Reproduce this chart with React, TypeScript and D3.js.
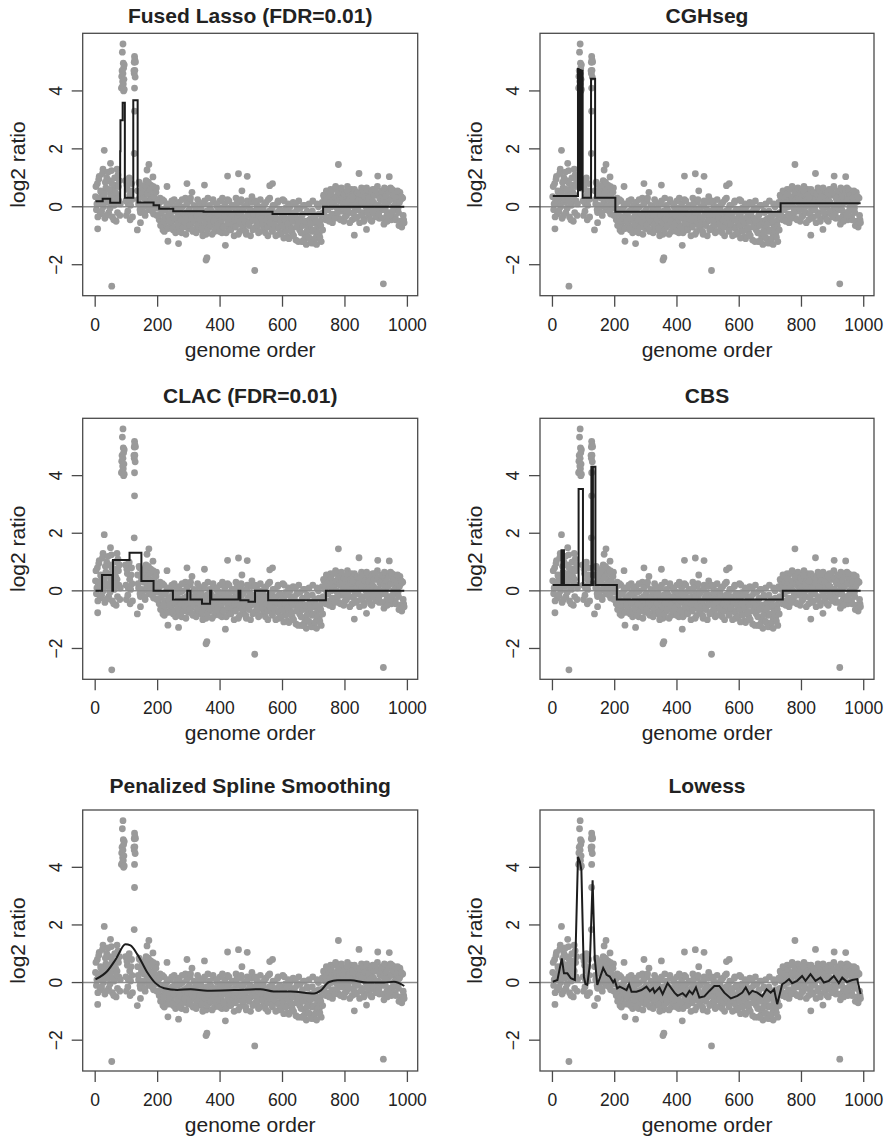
import React from "react";
import * as d3 from "d3";

const W = 888;
const H = 1139;
const FONT = "'Liberation Sans', Arial, Helvetica, sans-serif";

// log2 ratios; two interleaved sets, one value every third probe each
const BAND_STEP = 3;
const bandStarts = [1, 97, 136, 202, 238, 730];
const bandStarts2 = [2.5, 98.5, 137.5, 203.5, 239.5, 731.5];

const bandEarly = [0.35, -0.1, 0.8, 0.2, 1.05, -0.25, 0.5, 0.1, 1.3, 0.3, -0.4, 0.65, 1.0, 0.15, -0.2, 0.9, 0.45, 1.25, -0.35, 0.6, 0.05, 0.75, -0.5, 0.4, 1.1, 0.2, -0.3];
const bandMid = [0.9, -0.3, 0.6, 0.1, 1.0, -0.45, 0.55, 0.25];
const bandLate = [0.55, 0.1, 0.8, -0.2, 0.35, 0.7, 0.0, 0.45, -0.3, 0.9, 0.2, 0.6, -0.1, 0.4, 0.75, 0.05, 0.3, -0.25, 0.55, 0.15, 0.65, -0.05];
const bandDrop = [0.1, -0.45, 0.3, -0.6, -0.1, -0.8, 0.2, -0.35, -0.7, 0.0, -0.5, -0.25];
const bandLow = [
  -0.3, 0.1, -0.6, -0.15, -0.8, 0.25, -0.45, -0.05, -0.7, -0.25,
  0.15, -0.55, -0.35, -0.9, 0.0, -0.4, -0.65, 0.3, -0.2, -0.5,
  -0.75, -0.1, 0.2, -0.6, -0.3, -0.85, 0.05, -0.45, -0.15, -0.7,
  0.25, -0.35, -0.55, -0.05, -0.8, -0.25, 0.1, -0.65, -0.4, -0.95,
  -0.2, 0.3, -0.5, -0.7, -0.1, -0.35, -0.6, 0.15, -0.85, -0.3,
  -0.45, 0.0, -0.75, -0.2, 0.2, -0.55, -0.9, -0.15, -0.4, 0.1,
  -0.65, -0.3, 0.25, -0.8, -0.05, -0.5, -0.7, 0.05, -0.35, -1.0,
  -0.2, 0.3, -0.6, -0.45, -0.1, -0.85, 0.15, -0.3, -0.55, -0.75,
  0.0, -0.4, -0.95, 0.2, -0.25, -0.65, -0.1, -0.5, 0.35, -0.8,
  -0.35, -0.15, -0.7, 0.1, -0.45, -0.9, -0.2, 0.25, -0.6, -0.3,
  -0.05, -0.75, -0.4, 0.15, -0.55, -1.0, -0.25, 0.3, -0.65, -0.1,
  -0.85, -0.35, 0.05, -0.5, -0.2, -0.7, 0.2, -0.95, -0.45, -0.15,
  -0.6, 0.25, -0.3, -0.8, -0.05, -0.55, -1.05, 0.1, -0.4, -0.7,
  -0.2, -0.9, 0.15, -0.5, -0.35, -1.15, -0.1, -0.65, 0.2, -0.8,
  -0.45, -1.2, -0.25, 0.05, -0.95, -0.6, -1.3, -0.15, -0.75, 0.1,
  -1.1, -0.4, -0.85, 0.2, -1.25, -0.55, -0.3, -1.0, -0.7, 0.0,
  -0.9, -0.5, -1.2, 0.15,
];
const bandTail = [
  -0.2, 0.35, 0.05, -0.45, 0.5, -0.1, 0.25, -0.35, 0.6, 0.0,
  -0.55, 0.3, 0.15, -0.25, 0.65, -0.05, 0.4, -0.4, 0.2, 0.55,
  -0.15, 0.1, -0.5, 0.45, 0.3, -0.3, 0.7, 0.0, -0.2, 0.35,
  0.6, -0.45, 0.15, 0.5, -0.1, 0.25, -0.35, 0.4, 0.05, -0.55,
  0.3, 0.65, -0.2, 0.1, -0.4, 0.45, 0.2, -0.05, 0.55, -0.3,
  0.35, 0.0, -0.5, 0.6, 0.15, -0.25, 0.4, -0.15, 0.7, 0.05,
  -0.4, 0.25, 0.5, -0.1, 0.3, -0.6, 0.45, 0.1, -0.3, 0.6,
  0.2, -0.2, 0.65, -0.45, 0.35, 0.0, 0.55, -0.35, 0.15, 0.4,
  -0.05, -0.65, 0.5, 0.25, -0.7, 0.3, -0.45,
];

const bandEarly2 = [0.7, 0.1, -0.35, 0.95, 0.3, 0.55, -0.15, 1.15, 0.0, 0.45, 0.85, -0.3, 0.25, 1.2, 0.6, -0.05, 0.35, 0.8, 0.15, -0.45, 1.0, 0.5, 0.25, -0.2, 0.7, 0.9, 0.1];
const bandMid2 = [0.2, 0.75, -0.15, 0.95, 0.4, 0.05, 0.8, -0.35];
const bandLate2 = [0.25, 0.85, -0.1, 0.5, 0.05, 0.65, 0.3, -0.2, 0.75, 0.1, 0.45, 0.85, 0.0, 0.6, 0.25, -0.15, 0.7, 0.35, 0.1, 0.5, -0.3, 0.2];
const bandDrop2 = [-0.3, 0.15, -0.65, -0.2, 0.25, -0.5, -0.85, -0.1, -0.4, 0.1, -0.75, -0.35];
const bandLow2 = [
  -0.5, -0.2, 0.2, -0.75, -0.4, -0.1, -0.9, 0.05, -0.6, -0.3,
  -0.85, -0.05, -0.45, 0.25, -0.7, -0.25, -0.55, -0.95, 0.1, -0.35,
  -0.15, -0.65, 0.3, -0.4, -0.8, -0.2, -0.5, 0.0, -0.9, -0.3,
  -0.6, 0.15, -0.45, -0.1, -0.75, -1.0, -0.3, 0.2, -0.55, -0.15,
  -0.8, -0.4, 0.05, -0.65, -0.25, -0.95, 0.25, -0.5, -0.2, -0.7,
  0.1, -0.6, -0.3, -0.85, -0.05, -0.45, 0.3, -0.7, -0.35, -0.1,
  -0.9, -0.15, -0.55, 0.2, -0.4, -0.8, -0.25, -0.6, 0.0, -0.45,
  -0.7, 0.1, -0.35, -0.95, -0.2, -0.5, 0.25, -0.65, -0.1, -0.4,
  -0.55, -0.85, 0.05, -0.3, -0.6, -0.15, -1.0, 0.15, -0.45, -0.25,
  -0.75, 0.2, -0.5, -0.05, -0.65, -0.3, -0.85, 0.0, -0.4, -0.6,
  -0.2, 0.1, -0.9, -0.45, -0.7, 0.25, -0.15, -0.55, -0.35, -0.8,
  0.05, -0.6, -0.25, -1.0, -0.4, 0.15, -0.75, -0.1, -0.5, -0.9,
  -0.3, -0.65, 0.2, -0.45, -0.85, -0.15, -0.6, -1.1, 0.0, -0.35,
  -0.75, -0.5, -1.0, -0.2, 0.1, -0.7, -0.4, -1.2, -0.55, -0.05,
  -0.9, -0.3, -0.65, -1.15, 0.05, -0.5, -0.85, -0.2, -1.05, -0.45,
  -0.6, -1.25, -0.15, -0.8, -0.35, -1.1, -0.5, 0.1, -0.9, -0.25,
  -1.05, -0.65, -0.3, -0.8,
];
const bandTail2 = [
  0.4, -0.3, 0.2, 0.55, -0.1, 0.3, -0.5, 0.15, 0.45, -0.25,
  0.1, 0.6, -0.4, 0.35, 0.0, -0.2, 0.5, 0.25, -0.45, 0.65,
  0.3, -0.05, 0.45, -0.35, 0.15, 0.55, -0.15, 0.2, -0.55, 0.4,
  0.05, 0.35, -0.25, 0.6, -0.4, 0.1, 0.5, -0.1, 0.25, 0.45,
  -0.3, 0.15, 0.55, -0.5, 0.35, 0.0, 0.65, -0.2, 0.3, 0.1,
  -0.45, 0.5, 0.2, -0.15, 0.4, 0.6, -0.35, 0.05, 0.45, -0.25,
  0.3, 0.0, 0.55, -0.4, 0.2, 0.65, -0.1, 0.35, -0.5, 0.15,
  0.5, -0.3, 0.25, 0.6, -0.15, 0.4, 0.05, -0.45, 0.3, 0.55,
  -0.2, 0.15, -0.5, 0.35, -0.6, -0.3, -0.55,
];

const bands = [bandEarly, bandMid, bandLate, bandDrop, bandLow, bandTail];
const bands2 = [bandEarly2, bandMid2, bandLate2, bandDrop2, bandLow2, bandTail2];

// amplified probes [genome order, log2 ratio]
const spikeA = [[84, 4.1], [85, 4.5], [86, 4.7], [87, 5.34], [87, 4.15], [88, 4.33], [89, 5.62], [89, 4.6], [90, 4.96], [90, 4.24], [91, 4.79], [91, 4.0], [92, 4.4], [93, 4.9], [93, 4.05]];
const spikeB = [[124, 4.7], [125, 4.99], [125, 4.6], [125, 1.84], [126, 5.19], [126, 4.1], [126, 3.3], [127, 5.08], [127, 4.71], [128, 4.48], [129, 5.0]];
const outliers = [
  [8, -0.76], [29, 1.95], [49, 1.5], [53, -2.74], [70, 1.3], [135, -0.8], [145, -0.55], [166, 1.27], [172, 1.46],
  [185, 1.03], [230, 0.7], [233, -1.19], [267, -1.27], [294, 0.8], [310, 0.5], [350, 0.75], [355, -1.84], [358, -1.76],
  [417, -1.33], [424, 1.06], [459, 1.14], [470, 0.55], [487, 1.05], [511, -2.2], [559, 0.73], [568, 0.8], [604, -1.08],
  [666, -1.2], [709, -1.3], [770, 0.7], [779, 1.46], [830, -0.98], [845, 1.15], [869, -0.78], [905, 1.06], [923, -2.66], [942, 1.04],
];

// fitted profiles: [genome order, level]
const fusedLasso = [[1, 0.19], [24, 0.28], [48, 0.14], [80, 1.92], [81, 2.99], [88, 3.59], [95, 0.31], [122, 3.68], [136, 0.15], [187, 0.05], [205, -0.07], [250, -0.15], [347, -0.17], [568, -0.25], [730, 0.0], [990, 0.0]];
const cghseg = [[1, 0.37], [82, 4.76], [84, 0.6], [85, 4.65], [87, 0.57], [88, 4.72], [90, 0.6], [91, 4.7], [97, 0.31], [124, 4.42], [137, 0.31], [202, -0.17], [733, 0.12], [990, 0.12]];
const clac = [[1, 0.0], [22, 0.55], [55, 0.0], [57, 1.07], [110, 1.32], [148, 0.34], [187, 0.0], [249, -0.3], [295, 0.0], [305, -0.3], [342, -0.45], [368, 0.0], [372, -0.3], [459, 0.0], [465, -0.33], [491, -0.38], [512, 0.0], [554, -0.33], [739, 0.0], [990, 0.0]];
const cbs = [[1, 0.2], [29, 1.41], [31, 0.2], [33, 1.41], [37, 0.2], [84, 3.54], [98, 0.2], [125, 4.31], [128, 0.2], [130, 4.31], [138, 0.2], [207, -0.3], [740, 0.0], [990, 0.0]];
const spline = [[1, 0.11], [39, 0.4], [66, 0.81], [97, 1.33], [113, 1.29], [135, 0.98], [167, 0.35], [193, -0.02], [221, -0.2], [263, -0.26], [306, -0.23], [359, -0.28], [445, -0.26], [529, -0.23], [572, -0.31], [626, -0.31], [701, -0.38], [722, -0.28], [749, 0.02], [776, 0.08], [818, 0.08], [872, 0.0], [925, 0.0], [957, 0.03], [990, -0.12]];
const lowess = [
  [1, 0.03], [16, 0.09], [30, 0.84], [37, 0.32], [48, 0.32], [59, 0.15], [72, 0.09], [82, 4.36], [88, 4.2], [93, 3.9], [101, 0.2],
  [106, -0.05], [112, -0.08], [120, 0.61], [129, 3.55], [136, 0.84], [144, -0.08], [152, 0.15], [163, 0.5], [174, 0.27], [184, 0.21],
  [195, 0.01], [200, 0.09], [208, -0.2], [216, -0.14], [227, -0.2], [238, -0.26], [246, -0.06], [254, -0.32], [270, -0.32], [286, -0.26],
  [302, -0.14], [313, -0.3], [323, -0.2], [328, -0.35], [344, -0.17], [354, -0.4], [370, -0.02], [392, -0.35], [402, -0.46], [418, -0.37],
  [429, -0.48], [440, -0.29], [450, -0.4], [461, -0.17], [472, -0.52], [488, -0.48], [504, -0.29], [520, -0.12], [536, -0.12], [552, -0.35],
  [573, -0.55], [594, -0.46], [610, -0.35], [621, -0.17], [632, -0.4], [642, -0.29], [658, -0.35], [674, -0.48], [688, -0.23], [701, -0.35],
  [712, -0.23], [722, -0.75], [738, -0.06], [749, 0.02], [760, 0.12], [770, -0.02], [786, 0.06], [802, 0.23], [813, 0.06], [829, 0.29],
  [845, 0.06], [861, 0.17], [872, 0.0], [888, 0.06], [904, 0.23], [920, -0.02], [931, 0.17], [946, 0.02], [963, 0.09], [979, 0.12], [990, -0.4],
];

const panels = [
  { title: "Fused Lasso (FDR=0.01)", fit: fusedLasso, curve: d3.curveStepAfter },
  { title: "CGHseg", fit: cghseg, curve: d3.curveStepAfter },
  { title: "CLAC (FDR=0.01)", fit: clac, curve: d3.curveStepAfter },
  { title: "CBS", fit: cbs, curve: d3.curveStepAfter },
  { title: "Penalized Spline Smoothing", fit: spline, curve: d3.curveMonotoneX },
  { title: "Lowess", fit: lowess, curve: d3.curveLinear },
];

const xTicks = [0, 200, 400, 600, 800, 1000];
const yTicks = [-2, 0, 2, 4];

// plot boxes
const COLS = [{ x0: 82.7, x1: 417.7 }, { x0: 540, x1: 874 }];
const ROWS = [
  { y0: 33.3, y1: 295.7, titleY: 22.7 },
  { y0: 418.3, y1: 679.3, titleY: 403.3 },
  { y0: 810, y1: 1071, titleY: 793 },
];

// all probes in genome order
const points: number[][] = [];
bands.forEach((vals, k) => vals.forEach((v, i) => points.push([bandStarts[k] + i * BAND_STEP, v])));
bands2.forEach((vals, k) => vals.forEach((v, i) => points.push([bandStarts2[k] + i * BAND_STEP, v])));
spikeA.forEach((p) => points.push(p));
spikeB.forEach((p) => points.push(p));
outliers.forEach((p) => points.push(p));

const Panel = ({ idx, title, fit, curve }) => {
  const col = COLS[idx % 2];
  const row = ROWS[Math.floor(idx / 2)];
  const x = d3.scaleLinear().domain([-40, 1033]).range([col.x0, col.x1]);
  const y = d3.scaleLinear().domain([-3.07, 5.99]).range([row.y1, row.y0]);
  const line = d3.line().x((d) => x(d[0])).y((d) => y(d[1])).curve(curve);
  const cx = (col.x0 + col.x1) / 2;
  const cy = (row.y0 + row.y1) / 2;

  return (
    <g>
      <text x={cx} y={row.titleY} textAnchor="middle" fontSize={21} fontWeight="bold" fill="#222">
        {title}
      </text>
      {points.map((p, i) => (
        <circle key={i} cx={x(p[0])} cy={y(p[1])} r={3.4} fill="#9a9a9a" />
      ))}
      <line x1={col.x0} x2={col.x1} y1={y(0)} y2={y(0)} stroke="#8c8c8c" strokeWidth={1.5} />
      <path d={line(fit)} fill="none" stroke="#1c1c1c" strokeWidth={2} strokeLinejoin="miter" />
      <rect x={col.x0} y={row.y0} width={col.x1 - col.x0} height={row.y1 - row.y0} fill="none" stroke="#4a4a4a" strokeWidth={1.3} />

      {/* x axis */}
      {xTicks.map((t) => (
        <g key={t}>
          <line x1={x(t)} x2={x(t)} y1={row.y1} y2={row.y1 + 11} stroke="#4a4a4a" strokeWidth={1.3} />
          <text x={x(t)} y={row.y1 + 35} textAnchor="middle" fontSize={17.5} fill="#222">
            {t}
          </text>
        </g>
      ))}
      <text x={cx} y={row.y1 + 61} textAnchor="middle" fontSize={21} fill="#222">
        genome order
      </text>

      {/* y axis */}
      {yTicks.map((t) => (
        <g key={t}>
          <line x1={col.x0 - 11} x2={col.x0} y1={y(t)} y2={y(t)} stroke="#4a4a4a" strokeWidth={1.3} />
          <text
            transform={`translate(${col.x0 - 21},${y(t)}) rotate(-90)`}
            textAnchor="middle"
            fontSize={17.5}
            fill="#222"
          >
            {t === -2 ? "\u22122" : t}
          </text>
        </g>
      ))}
      <text transform={`translate(${col.x0 - 58},${cy}) rotate(-90)`} textAnchor="middle" fontSize={21} fill="#222">
        log2 ratio
      </text>
    </g>
  );
};

export default function App() {
  return (
    <svg
      width={W}
      height={H}
      style={{ position: "absolute", left: 0, top: 0, background: "#fff" }}
      fontFamily={FONT}
    >
      <rect width={W} height={H} fill="#fff" />
      {panels.map((p, i) => (
        <Panel key={i} idx={i} {...p} />
      ))}
    </svg>
  );
}
